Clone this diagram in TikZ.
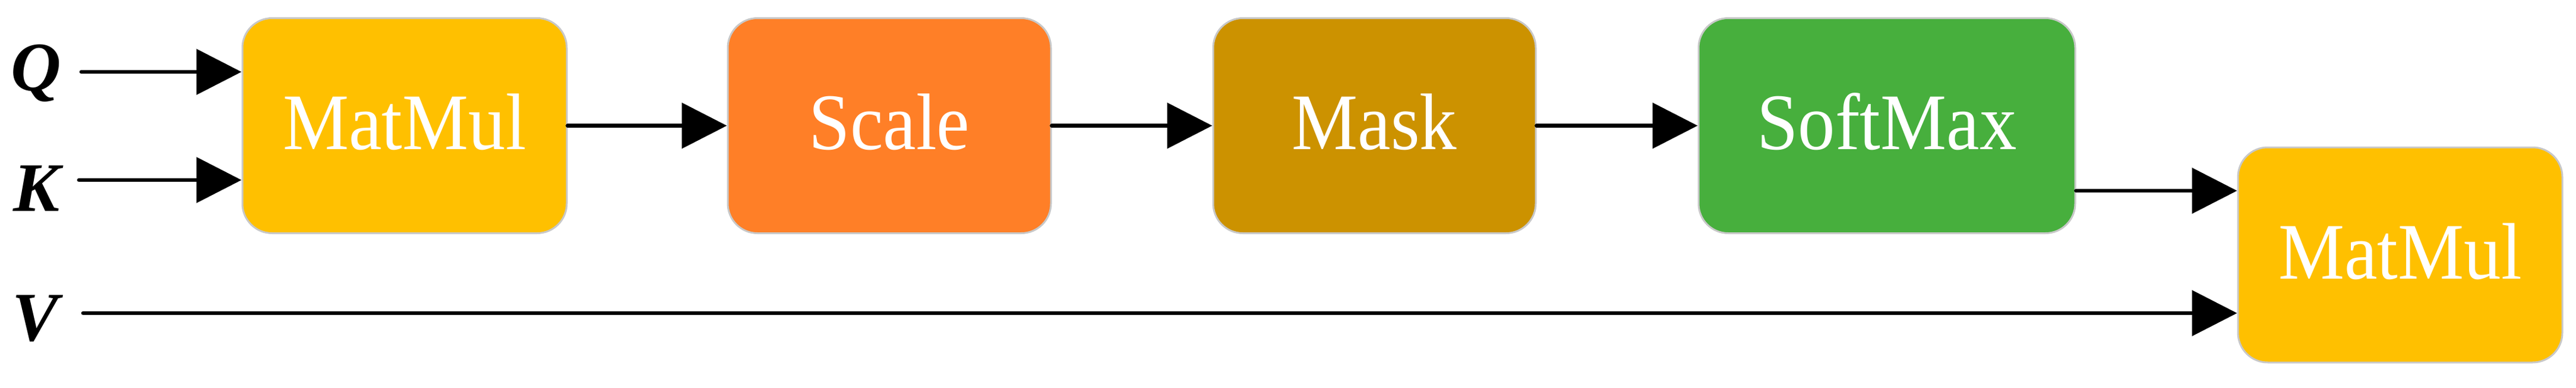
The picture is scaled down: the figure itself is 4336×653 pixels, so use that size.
\documentclass[tikz,border=0pt]{standalone}
\usepackage{fontspec}
\usepackage{graphicx}
\setmainfont{Liberation Serif}
\usetikzlibrary{arrows.meta}
\definecolor{cGold}{HTML}{FFC000}
\definecolor{cOrange}{HTML}{FF7F27}
\definecolor{cMask}{HTML}{CC9200}
\definecolor{cGreen}{HTML}{47AF3D}
\definecolor{cBorder}{HTML}{C8C8C8}
\newcommand\tallbox[1]{\scalebox{1}[1.08]{#1}}
\tikzset{
  opbox/.style={draw=cBorder, line width=0.75pt, rounded corners=12.5pt,
    minimum height=90.5pt, inner sep=0pt, text=white,
    text height=20pt, text depth=0pt,
    font=\fontsize{31.25}{36}\selectfont},
  inlabel/.style={inner sep=0pt, anchor=base,
    font=\fontsize{29.25}{34}\selectfont\bfseries\itshape},
  conn/.style={line width=1.7pt, line cap=round, -{Triangle[length=19pt,width=19pt]}},
}
\begin{document}
\begin{tikzpicture}[x=0.25pt, y=-0.25pt]
\useasboundingbox (0,0) rectangle (4336,653);
% boxes
\node[opbox, fill=cGold,   minimum width=136.5pt] (mm1)  at (681,211.5) {\tallbox{MatMul}};
\node[opbox, fill=cOrange, minimum width=136pt]   (scl)  at (1497,211.5) {\tallbox{Scale}};
\node[opbox, fill=cMask,   minimum width=135.75pt](msk)  at (2313.5,211.5) {\tallbox{Mask}};
\node[opbox, fill=cGreen,  minimum width=158.5pt] (smx)  at (3176,211.5) {\tallbox{SoftMax}};
\node[opbox, fill=cGold,   minimum width=136.5pt] (mm2)  at (4040,429) {\tallbox{MatMul}};
% input labels
\node[inlabel] (lq) at (61,152) {Q};
\node[inlabel] (lk) at (62,355) {K};
\node[inlabel] (lv) at (60,573) {V};
% start points of the input lines
\coordinate (qs) at (137,121);
\coordinate (ks) at (133,303);
\coordinate (vs) at (140,527);
\coordinate (sm) at (3493,321);
% connectors
\draw[conn] (qs) -- (qs -| mm1.west);
\draw[conn] (ks) -- (ks -| mm1.west);
\draw[conn] (mm1.east) -- (scl.west);
\draw[conn] (scl.east) -- (msk.west);
\draw[conn] (msk.east) -- (smx.west);
\draw[conn] (sm -| smx.east) -- (sm -| mm2.west);
\draw[conn] (vs) -- (vs -| mm2.west);
\end{tikzpicture}
\end{document}
